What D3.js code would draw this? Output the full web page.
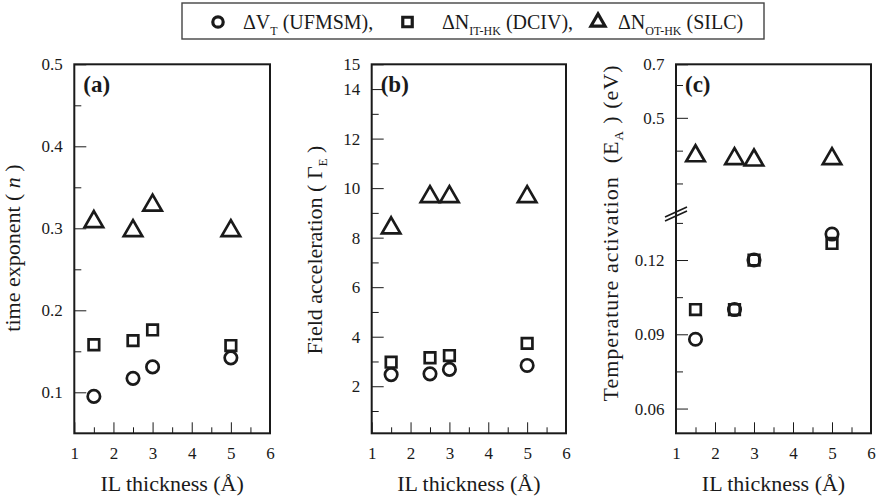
<!DOCTYPE html>
<html>
<head>
<meta charset="utf-8">
<title>IL thickness dependence</title>
<style>
  body { margin: 0; background: #fff; }
  svg text { fill: #1a1a1a; }
</style>
<script src="https://d3js.org/d3.v7.min.js"></script>
</head>
<body>
<svg id="chart" width="880" height="499" font-family="'Liberation Serif', 'DejaVu Serif', Times, serif"></svg>
<script>

// IL thickness (Å)
const thickness = [1.5, 2.5, 3, 5];

// (a) time exponent n
const nUFMSM = [0.095, 0.117, 0.131, 0.142];
const nDCIV  = [0.158, 0.163, 0.176, 0.157];
const nSILC  = [0.308, 0.297, 0.328, 0.297];

// (b) field acceleration
const gUFMSM = [2.47, 2.50, 2.68, 2.84];
const gDCIV  = [2.97, 3.15, 3.24, 3.73];
const gSILC  = [8.39, 9.65, 9.65, 9.65];

// (c) temperature activation (eV)
const eUFMSM = [0.088, 0.100, 0.120, 0.1305];
const eDCIV  = [0.100, 0.100, 0.120, 0.1267];
const eSILC  = [0.384, 0.375, 0.371, 0.375];

// ticks
const xMajor = [1, 2, 3, 4, 5, 6];
const xMinor = [1.5, 2.5, 3.5, 4.5, 5.5];
const aMajor = [0.1, 0.2, 0.3, 0.4, 0.5];
const aMinor = [0.15, 0.25, 0.35, 0.45];
const bMajor = [2, 4, 6, 8, 10, 12, 14, 15];
const bMinor = [1, 3, 5, 7, 9, 11, 13];
const cLowMajor = [0.06, 0.09, 0.12];
const cLowMinor = [0.075, 0.105, 0.135];
const cHighMajor = [0.5, 0.7];
const cHighMinor = [0.3, 0.4, 0.6];

const svg = d3.select("#chart");
const plotTop = 64.3, plotBottom = 433.3;
const ink = "#1a1a1a";
const serif = "'Liberation Serif', 'DejaVu Serif', Times, serif";

function drawXAxis(g, x) {
    g.append("g")
        .attr("transform", `translate(0,${plotBottom})`)
        .call(d3.axisBottom(x).tickValues(xMajor).tickFormat(d3.format("d")).tickSize(-11).tickPadding(13.4))
        .call(a => a.select(".domain").remove())
        .attr("font-size", 17).attr("font-family", serif).attr("color", ink);
    g.append("g")
        .attr("transform", `translate(0,${plotBottom})`)
        .call(d3.axisBottom(x).tickValues(xMinor).tickFormat("").tickSize(-6))
        .call(a => a.select(".domain").remove())
        .attr("color", ink);
}

function drawYAxis(g, x0, y, major, minor, fmt) {
    g.append("g")
        .attr("transform", `translate(${x0},0)`)
        .call(d3.axisLeft(y).tickValues(major).tickFormat(fmt).tickSize(-12).tickPadding(11.5))
        .call(a => a.select(".domain").remove())
        .attr("font-size", 17).attr("font-family", serif).attr("color", ink);
    g.append("g")
        .attr("transform", `translate(${x0},0)`)
        .call(d3.axisLeft(y).tickValues(minor).tickFormat("").tickSize(-7))
        .call(a => a.select(".domain").remove())
        .attr("color", ink);
}

function drawFrame(g, x) {
    g.append("rect")
        .attr("x", x.range()[0]).attr("y", plotTop)
        .attr("width", x.range()[1] - x.range()[0])
        .attr("height", plotBottom - plotTop)
        .attr("fill", "none").attr("stroke", ink).attr("stroke-width", 2);
}

const circleSym = d3.symbol().type(d3.symbolCircle).size(121);
const squareSym = d3.symbol().type(d3.symbolSquare).size(112);
const triSym = d3.symbol().type(d3.symbolTriangle).size(148);

function drawMarkers(g, x, yFn, vals, sym) {
    g.selectAll(null)
        .data(thickness.map((t, i) => [t, vals[i]]))
        .enter().append("path")
        .attr("d", sym)
        .attr("transform", d => `translate(${x(d[0])},${yFn(d[1])})`)
        .attr("fill", "none")
        .attr("stroke", ink)
        .attr("stroke-width", 2.7);
}

function panelLabel(g, x0, txt) {
    g.append("text").attr("x", x0 + 9).attr("y", 92)
        .attr("font-size", 23).attr("font-weight", "bold").text(txt);
}

function xTitle(g, x) {
    g.append("text")
        .attr("x", (x.range()[0] + x.range()[1]) / 2).attr("y", 491)
        .attr("text-anchor", "middle").attr("font-size", 22)
        .text("IL thickness (Å)");
}

// ---------- (a) ----------
const xa = d3.scaleLinear().domain([1, 6]).range([74.3, 270]);
const ya = d3.scaleLinear().domain([0.05, 0.5]).range([plotBottom, plotTop]);
const ga = svg.append("g");
drawXAxis(ga, xa);
drawYAxis(ga, 74.3, ya, aMajor, aMinor, d3.format(".1f"));
drawFrame(ga, xa);
drawMarkers(ga, xa, ya, nDCIV, squareSym);
drawMarkers(ga, xa, ya, nUFMSM, circleSym);
drawMarkers(ga, xa, ya, nSILC, triSym);
panelLabel(ga, 74.3, "(a)");
xTitle(ga, xa);
ga.append("text")
    .attr("transform", "translate(20,248) rotate(-90)")
    .attr("text-anchor", "middle").attr("font-size", 22)
    .attr("xml:space", "preserve")
    .call(t => {
        t.append("tspan").text("time exponent ( ");
        t.append("tspan").attr("font-style", "italic").text("n");
        t.append("tspan").text(" )");
    });

// ---------- (b) ----------
const xb = d3.scaleLinear().domain([1, 6]).range([371.7, 566]);
const yb = d3.scaleLinear().domain([0.1, 15]).range([plotBottom, plotTop]);
const gb = svg.append("g");
drawXAxis(gb, xb);
drawYAxis(gb, 371.7, yb, bMajor, bMinor, d3.format("d"));
drawFrame(gb, xb);
drawMarkers(gb, xb, yb, gDCIV, squareSym);
drawMarkers(gb, xb, yb, gUFMSM, circleSym);
drawMarkers(gb, xb, yb, gSILC, triSym);
panelLabel(gb, 371.7, "(b)");
xTitle(gb, xb);
gb.append("text")
    .attr("transform", "translate(322,250) rotate(-90)")
    .attr("text-anchor", "middle").attr("font-size", 22)
    .attr("xml:space", "preserve")
    .call(t => {
        t.append("tspan").text("Field acceleration ( Γ");
        t.append("tspan").attr("font-size", 13).attr("dy", 5).text("E");
        t.append("tspan").attr("dy", -5).text(" )");
    });

// ---------- (c) broken axis ----------
const xc = d3.scaleLinear().domain([1, 6]).range([676, 871]);
const breakY = 213;
const ycLow = d3.scaleLinear().domain([0.05, 0.139]).range([plotBottom, breakY]);
const ycHigh = d3.scaleLinear().domain([0.21, 0.6, 0.7]).range([breakY, 85, plotTop]);
const yc = v => v < 0.2 ? ycLow(v) : ycHigh(v);
const gc = svg.append("g");
drawXAxis(gc, xc);
drawYAxis(gc, 676, ycLow, cLowMajor, cLowMinor, d3.format(".2f"));
drawYAxis(gc, 676, ycHigh, cHighMajor, cHighMinor, d3.format(".1f"));
drawFrame(gc, xc);
// break marks
[0, 4].forEach(off => {
    gc.append("line")
        .attr("x1", 665).attr("y1", breakY + 4 + off)
        .attr("x2", 687).attr("y2", breakY - 6 + off)
        .attr("stroke", ink).attr("stroke-width", 1.6);
});
drawMarkers(gc, xc, yc, eDCIV, squareSym);
drawMarkers(gc, xc, yc, eUFMSM, circleSym);
drawMarkers(gc, xc, yc, eSILC, triSym);
panelLabel(gc, 676, "(c)");
xTitle(gc, xc);
gc.append("text")
    .attr("transform", "translate(618,233.5) rotate(-90)")
    .attr("text-anchor", "middle").attr("font-size", 22)
    .attr("xml:space", "preserve")
    .attr("textLength", 336).attr("lengthAdjust", "spacing")
    .call(t => {
        t.append("tspan").text("Temperature activation  (E");
        t.append("tspan").attr("font-size", 13).attr("dy", 5).text("A");
        t.append("tspan").attr("dy", -5).text(" ) (eV)");
    });

// ---------- legend ----------
const leg = svg.append("g");
leg.append("rect")
    .attr("x", 182).attr("y", 3).attr("width", 582).attr("height", 36)
    .attr("fill", "#fff").attr("stroke", "#444").attr("stroke-width", 1.4);

const legItems = [
    { sym: d3.symbol().type(d3.symbolCircle).size(85), mx: 218, tx: 243, main: "ΔV", sub: "T", rest: " (UFMSM)," },
    { sym: d3.symbol().type(d3.symbolSquare).size(90), mx: 407.5, tx: 442, main: "ΔN", sub: "IT-HK", rest: " (DCIV)," },
    { sym: d3.symbol().type(d3.symbolTriangle).size(85), mx: 598, tx: 618, main: "ΔN", sub: "OT-HK", rest: " (SILC)" }
];
legItems.forEach(it => {
    leg.append("path").attr("d", it.sym)
        .attr("transform", `translate(${it.mx},22)`)
        .attr("fill", "none").attr("stroke", ink).attr("stroke-width", 3.2);
    const t = leg.append("text").attr("x", it.tx).attr("y", 29)
        .attr("font-size", 20).attr("xml:space", "preserve");
    t.append("tspan").text(it.main);
    t.append("tspan").attr("font-size", 12).attr("dy", 6).text(it.sub);
    t.append("tspan").attr("dy", -6).text(it.rest);
});

</script>
</body>
</html>
